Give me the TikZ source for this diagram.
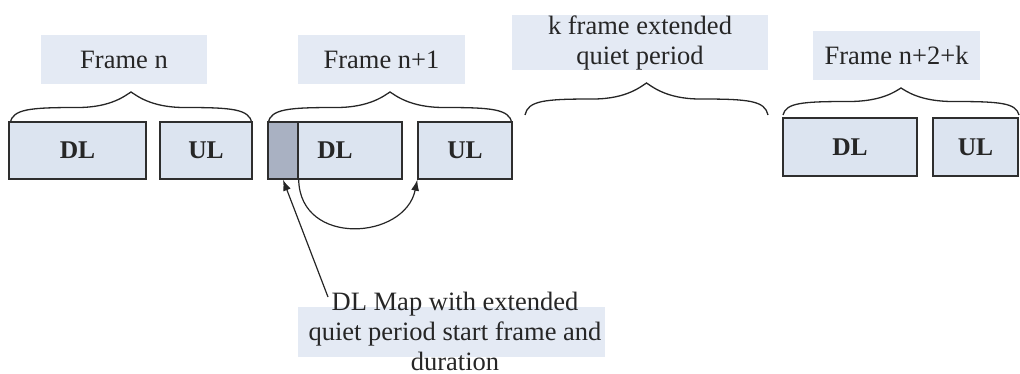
\documentclass[tikz,border=0pt]{standalone}
\usepackage{fontspec}
\setmainfont{Liberation Serif}
\usetikzlibrary{arrows.meta}
\definecolor{boxfill}{HTML}{DCE4F0}
\definecolor{labelfill}{HTML}{E4EAF4}
\definecolor{mapfill}{HTML}{A9B1C2}
\definecolor{edge}{HTML}{2E2E2E}
\definecolor{ink}{HTML}{262626}
\tikzset{
  slot/.style={draw=edge, line width=1.4pt, fill=boxfill, inner sep=0pt, text=ink,
    minimum height=57pt, font=\fontsize{25.5}{30}\selectfont\bfseries},
  mapslot/.style={slot, fill=mapfill},
  caption/.style={fill=labelfill, inner sep=0pt, align=center, text=ink,
    font=\fontsize{26.5}{30}\selectfont},
  bracestyle/.style={draw=black!85, line width=1.3pt},
  pointer/.style={draw=black!85, line width=1.2pt, -{Latex[length=11pt,width=8pt]}},
}
% curly brace: left x, right x, end y, peak y
\newcommand{\framebrace}[4]{%
  \draw[bracestyle] (#1,#3)
    .. controls ({#1+3},{#3-0.45*(#3-#4)}) and ({#1+0.08*(#2-#1)},{#3-0.5*(#3-#4)}) .. ({#1+0.28*(#2-#1)},{#3-0.5*(#3-#4)})
    .. controls ({#1+0.42*(#2-#1)},{#3-0.5*(#3-#4)}) and ({0.5*(#1+#2)-5},{#4+3}) .. ({0.5*(#1+#2)},{#4})
    .. controls ({0.5*(#1+#2)+5},{#4+3}) and ({#2-0.42*(#2-#1)},{#3-0.5*(#3-#4)}) .. ({#2-0.28*(#2-#1)},{#3-0.5*(#3-#4)})
    .. controls ({#2-0.08*(#2-#1)},{#3-0.5*(#3-#4)}) and ({#2-3},{#3-0.45*(#3-#4)}) .. (#2,#3);}
\begin{document}
\begin{tikzpicture}[x=1pt,y=-1pt]
\useasboundingbox (0,0) rectangle (1020,374);

% frame labels
\node[caption, minimum width=166pt, minimum height=49pt] (lbla) at (124,59.5) {Frame n};
\node[caption, minimum width=167pt, minimum height=49pt] (lblb) at (381.5,59.5) {Frame n+1};
\node[caption, minimum width=256pt, minimum height=51pt] (lblq) at (640,42.5) {k frame extended\\quiet period};
\node[caption, minimum width=167pt, minimum height=49pt] (lblc) at (896.5,55.5) {Frame n+2+k};

% braces
\framebrace{10}{252}{123}{92}
\framebrace{268}{512}{123}{92}
\framebrace{525}{768}{115}{83}
\framebrace{783}{1019}{115}{88}

% frame n
\node[slot, minimum width=137pt] (dla) at (77.5,150.5) {DL};
\node[slot, minimum width=92pt] (ula) at (206,150.5) {UL};
% frame n+1
\node[slot, minimum width=134pt] (dlb) at (335,150.5) {DL};
\node[mapslot, minimum width=30pt] (mapb) at (283,150.5) {};
\node[slot, minimum width=94pt] (ulb) at (465,150.5) {UL};
% frame n+2+k
\node[slot, minimum width=134pt, minimum height=58pt] (dlc) at (850,147) {DL};
\node[slot, minimum width=85pt, minimum height=58pt] (ulc) at (975.5,147) {UL};

% DL map note
\fill[labelfill] (298,307) rectangle (605,357);
\node[caption, fill=none] (note) at (455,331) {DL Map with extended\\quiet period start frame and\\duration};
\coordinate (notetip) at (328,297);

% connectors
\draw[pointer] (notetip) -- (mapb.south);
\draw[pointer] (mapb.south east) .. controls (300,247) and (405,240) .. (ulb.south west);
\end{tikzpicture}
\end{document}
